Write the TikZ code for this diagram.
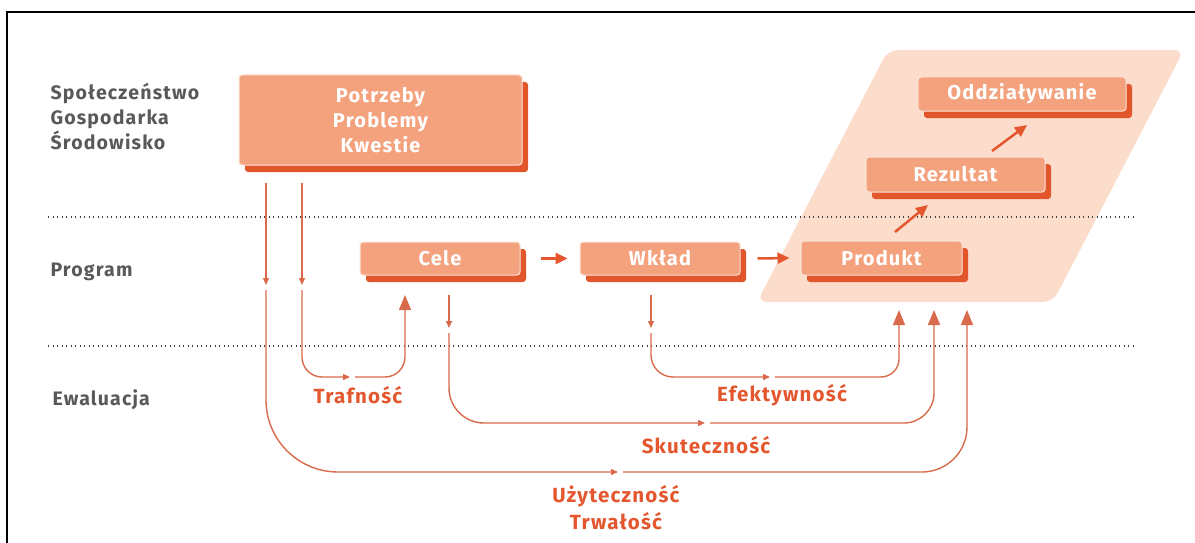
\documentclass[tikz,border=0pt]{standalone}
\usepackage{fontspec}
\setmainfont{Fira Sans}[LetterSpace=6]
\usetikzlibrary{positioning,shadows,arrows.meta}
\definecolor{boxfill}{HTML}{F4A27E}
\definecolor{boxshade}{HTML}{E2562B}
\definecolor{flowred}{HTML}{E4572E}
\definecolor{linered}{HTML}{D96A4C}
\definecolor{areafill}{HTML}{FCDCCB}
\definecolor{labelgray}{HTML}{595959}
\begin{document}
\begin{tikzpicture}[x=1pt,y=-1pt,
  stage/.style={rectangle,rounded corners=3pt,fill=boxfill,draw=white!70!boxfill,line width=1pt,
    text=white,font=\bfseries\fontsize{20}{25}\selectfont,align=center,inner sep=0pt,
    drop shadow={shadow xshift=6pt,shadow yshift=-7pt,fill=boxshade,opacity=1}},
  rowlabel/.style={anchor=west,align=left,text=labelgray,font=\bfseries\fontsize{19.5}{25}\selectfont},
  evallabel/.style={text=flowred,align=center,font=\bfseries\fontsize{20.5}{27}\selectfont},
  sep/.style={draw=black!75,line width=1.3pt,dash pattern=on 1.3pt off 3.2pt},
  thickflow/.style={draw=flowred,line width=2.5pt,-{Triangle[width=11pt,length=12pt]}},
  evalflow/.style={draw=linered,line width=1.4pt},
  midtip/.style={-{Triangle[width=6pt,length=7pt]}},
  uptip/.style={-{Triangle[width=12pt,length=15pt]}}]
\useasboundingbox (0,0) rectangle (1195,543);
% frame
\draw[line width=2pt] (7,543) -- (7,12) -- (1195,12);
% area of effects
\fill[areafill,rounded corners=10pt] (888,50) -- (1184,50) -- (1053,302) -- (757,302) -- cycle;
% separators
\draw[sep] (48,217) -- (1135,217);
\draw[sep] (48,346) -- (1135,346);
% row labels
\node[rowlabel] (society) at (47,117) {Społeczeństwo\\Gospodarka\\Środowisko};
\node[rowlabel] (program) at (47,272) {Program};
\node[rowlabel] (evaluation) at (49,400) {Ewaluacja};
% stages
\node[stage,minimum width=283pt,minimum height=90pt] (needs) at (380.5,120) {Potrzeby\\Problemy\\Kwestie};
\node[stage,minimum width=160pt,minimum height=33pt] (cele) at (440,258.5) {Cele};
\node[stage,minimum width=160pt,minimum height=33pt] (wklad) at (660,258.5) {Wkład};
\node[stage,minimum width=161pt,minimum height=34pt] (produkt) at (881.5,258) {Produkt};
\node[stage,minimum width=179pt,minimum height=35pt] (rezultat) at (955.5,174.5) {Rezultat};
\node[stage,minimum width=208pt,minimum height=34pt] (oddz) at (1022,94) {Oddziaływanie};
% main chain
\draw[thickflow] ([xshift=20pt]cele.east) -- ([xshift=-12pt]wklad.west);
\draw[thickflow] ([xshift=17pt]wklad.east) -- ([xshift=-11pt]produkt.west);
\coordinate (pr1) at (895,232);
\coordinate (pr2) at (928,205);
\coordinate (ro1) at (992,151);
\coordinate (ro2) at (1027,125);
\draw[thickflow] (pr1) -- (pr2);
\draw[thickflow] (ro1) -- (ro2);
% evaluation routes
\coordinate (u0) at (266,183); \coordinate (u1) at (266,285); \coordinate (u2) at (266,290);
\coordinate (u3) at (618,472); \coordinate (u4) at (623,472); \coordinate (u5) at (967,310);
\draw[evalflow,midtip] (u0) -- (u1);
\draw[evalflow,midtip,rounded corners=72pt] (u2) |- (u3);
\draw[evalflow,uptip,rounded corners=45pt] (u4) -| (u5);
\coordinate (t0) at (302,183); \coordinate (t1) at (302,285); \coordinate (t2) at (302,290);
\coordinate (t3) at (350,377); \coordinate (t4) at (355,377); \coordinate (t5) at (405,295);
\draw[evalflow,midtip] (t0) -- (t1);
\draw[evalflow,midtip,rounded corners=20pt] (t2) |- (t3);
\draw[evalflow,uptip,rounded corners=20pt] (t4) -| (t5);
\coordinate (s0) at (449,295); \coordinate (s1) at (449,328); \coordinate (s2) at (449,333);
\coordinate (s3) at (705,423); \coordinate (s4) at (710,423); \coordinate (s5) at (934,310);
\draw[evalflow,midtip] (s0) -- (s1);
\draw[evalflow,midtip,rounded corners=35pt] (s2) |- (s3);
\draw[evalflow,uptip,rounded corners=30pt] (s4) -| (s5);
\coordinate (e0) at (651,295); \coordinate (e1) at (651,328); \coordinate (e2) at (651,333);
\coordinate (e3) at (770,377); \coordinate (e4) at (775,377); \coordinate (e5) at (899,310);
\draw[evalflow,midtip] (e0) -- (e1);
\draw[evalflow,midtip,rounded corners=22pt] (e2) |- (e3);
\draw[evalflow,uptip,rounded corners=18pt] (e4) -| (e5);
% criteria
\node[evallabel] (trafnosc) at (358,395) {Trafność};
\node[evallabel] (efekt) at (782,395) {Efektywność};
\node[evallabel] (skut) at (706,445) {Skuteczność};
\node[evallabel] (uzyt) at (616,508) {Użyteczność\\Trwałość};
\end{tikzpicture}
\end{document}
